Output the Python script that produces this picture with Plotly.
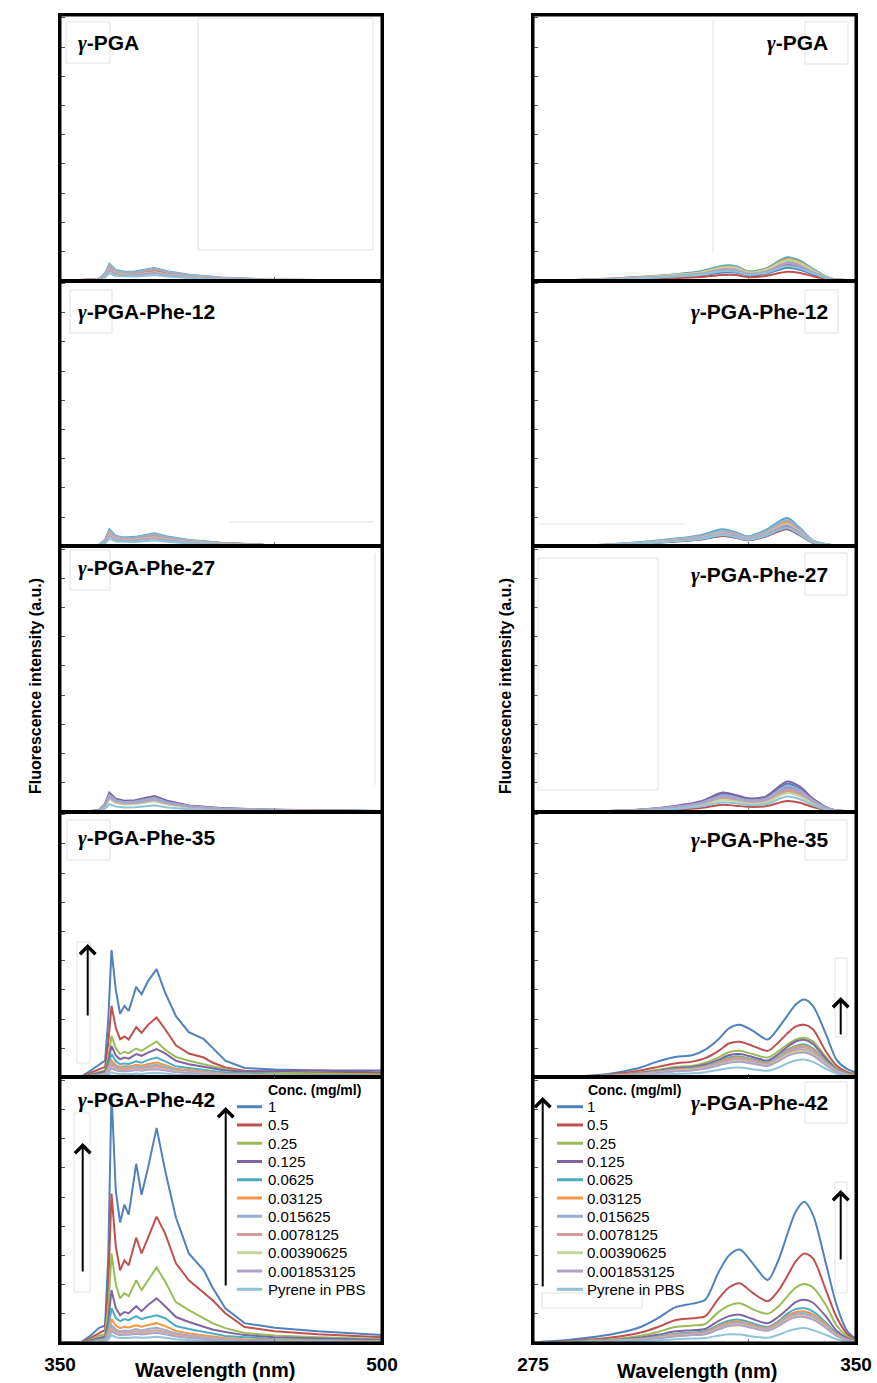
import plotly.graph_objects as go

# ---------------------------------------------------------------- data
CONC = ["1", "0.5", "0.25", "0.125", "0.0625", "0.03125", "0.015625",
        "0.0078125", "0.00390625", "0.001853125", "Pyrene in PBS"]
COLORS = ["#4F81BD", "#C0504D", "#9BBB59", "#8064A2", "#4BACC6", "#F79646",
          "#9AAFD0", "#D69A98", "#C4D79B", "#B1A0C7", "#8FC4D8"]
PANEL_NAMES = ["γ-PGA", "γ-PGA-Phe-12", "γ-PGA-Phe-27", "γ-PGA-Phe-35", "γ-PGA-Phe-42"]

# emission wavelengths (nm)
WL_EM = [350, 360, 365, 368, 371, 372.5, 374, 376, 378, 380, 382, 385.5, 388, 391,
         395, 399, 404, 410, 417, 421, 427, 436, 450, 470, 500]
WL_EM_LOW = [350, 362, 368, 371, 373, 376, 380, 385, 390, 394, 400, 410, 425, 445, 470, 500]

# excitation wavelengths (nm)
WL_EX = [275, 283, 290, 295, 300, 304, 308, 312, 315, 318, 320.5, 323, 326, 329.5,
         332, 334, 336, 338, 340, 343, 345.5, 348, 350]
WL_EX_LOW = [275, 290, 300, 308, 314, 319, 322, 325, 329, 334, 337, 340, 344, 350]

# emission intensities, one row per concentration (same order as CONC)
EM_PGA = [
    [0, 1, 4, 21, 48, 30, 25, 25, 31, 35, 26, 16, 9, 3, 2, 1],
    [0, 1, 4, 20, 45, 28, 23, 24, 30, 34, 25, 16, 9, 3, 2, 1],
    [0, 1, 4, 22, 50, 31, 26, 27, 33, 37, 28, 17, 9, 3, 2, 1],
    [0, 1, 4, 19, 43, 27, 22, 23, 28, 32, 24, 15, 8, 3, 1, 1],
    [0, 1, 5, 25, 58, 36, 30, 31, 38, 43, 32, 20, 11, 4, 2, 1],
    [0, 1, 5, 23, 52, 32, 27, 28, 34, 39, 29, 18, 10, 4, 2, 1],
    [0, 1, 5, 24, 55, 34, 29, 29, 36, 41, 30, 19, 10, 4, 2, 1],
    [0, 1, 4, 18, 41, 25, 21, 22, 27, 30, 22, 14, 8, 3, 1, 1],
    [0, 1, 3, 17, 38, 24, 20, 20, 25, 28, 21, 13, 7, 3, 1, 1],
    [0, 1, 3, 15, 35, 22, 18, 19, 23, 26, 19, 12, 7, 2, 1, 0],
    [0, 0, 2, 11, 26, 16, 14, 14, 17, 19, 14, 9, 5, 2, 1, 0],
]
EM_PHE12 = [
    [0, 1, 3, 18, 46, 28, 24, 26, 32, 35, 26, 17, 10, 4, 2, 2],
    [0, 1, 3, 16, 42, 25, 22, 23, 29, 32, 24, 15, 9, 4, 2, 1],
    [0, 1, 3, 19, 49, 30, 26, 27, 34, 37, 28, 18, 10, 4, 3, 2],
    [0, 1, 4, 20, 52, 32, 27, 29, 36, 40, 30, 19, 11, 5, 3, 2],
    [0, 1, 4, 22, 58, 35, 30, 32, 40, 44, 33, 21, 12, 5, 3, 2],
    [0, 1, 4, 19, 51, 31, 26, 28, 35, 39, 29, 18, 11, 4, 3, 2],
    [0, 1, 4, 21, 55, 33, 29, 30, 38, 42, 31, 20, 11, 5, 3, 2],
    [0, 1, 3, 17, 44, 27, 23, 24, 30, 33, 25, 16, 9, 4, 2, 2],
    [0, 1, 3, 15, 39, 24, 20, 22, 27, 30, 22, 14, 8, 3, 2, 1],
    [0, 1, 2, 14, 36, 22, 19, 20, 25, 27, 20, 13, 7, 3, 2, 1],
    [0, 0, 2, 10, 26, 16, 14, 14, 18, 20, 15, 9, 5, 2, 1, 1],
]
EM_PHE27 = [
    [0, 1, 5, 26, 61, 41, 35, 37, 44, 50, 35, 20, 12, 7, 5, 3],
    [0, 1, 4, 20, 46, 32, 27, 28, 34, 38, 27, 15, 9, 6, 4, 2],
    [0, 1, 4, 22, 53, 36, 30, 32, 38, 43, 30, 18, 10, 6, 4, 2],
    [0, 1, 5, 28, 66, 45, 38, 40, 48, 54, 38, 22, 13, 8, 5, 3],
    [0, 1, 4, 24, 56, 38, 32, 34, 41, 46, 32, 19, 11, 7, 4, 3],
    [0, 1, 4, 22, 51, 35, 30, 31, 37, 42, 30, 17, 10, 6, 4, 2],
    [0, 1, 4, 25, 58, 40, 33, 35, 42, 48, 33, 19, 11, 7, 4, 3],
    [0, 1, 4, 20, 48, 32, 27, 29, 35, 39, 27, 16, 9, 6, 4, 2],
    [0, 1, 3, 18, 44, 30, 25, 26, 32, 36, 25, 15, 9, 5, 3, 2],
    [0, 1, 4, 21, 50, 34, 29, 30, 36, 41, 29, 17, 10, 6, 4, 2],
    [0, 0, 2, 11, 26, 18, 15, 16, 19, 22, 15, 9, 5, 3, 2, 1],
]
EM_PHE35 = [
    [0, 3, 27, 41, 58, 200, 436, 300, 218, 245, 228, 310, 285, 330, 371, 290, 210, 155, 131, 102, 57, 32, 27, 24, 17],
    [0, 2, 18, 27, 36, 120, 245, 170, 131, 140, 130, 172, 153, 180, 205, 165, 110, 82, 68, 51, 34, 23, 19, 16, 14],
    [0, 1, 12, 18, 24, 70, 142, 100, 80, 88, 83, 99, 91, 105, 123, 95, 70, 57, 45, 38, 28, 20, 16, 13, 10],
    [0, 1, 10, 15, 20, 55, 108, 75, 62, 68, 64, 80, 74, 85, 97, 82, 57, 45, 37, 31, 24, 20, 22, 24, 24],
    [0, 1, 7, 11, 14, 40, 80, 55, 45, 48, 46, 55, 50, 60, 68, 55, 38, 32, 27, 22, 17, 14, 10, 8, 6],
    [0, 1, 6, 9, 12, 32, 58, 42, 36, 38, 37, 43, 40, 46, 51, 42, 30, 25, 20, 16, 12, 10, 8, 6, 5],
    [0, 1, 5, 8, 10, 27, 48, 36, 31, 33, 32, 37, 34, 39, 43, 36, 26, 21, 17, 14, 11, 9, 7, 6, 5],
    [0, 1, 4, 7, 9, 23, 41, 31, 27, 29, 28, 32, 30, 34, 37, 31, 23, 19, 15, 12, 10, 8, 6, 5, 4],
    [0, 1, 3, 6, 8, 19, 34, 26, 23, 24, 23, 27, 25, 28, 31, 26, 19, 16, 13, 10, 8, 7, 5, 4, 3],
    [0, 1, 3, 5, 7, 17, 31, 24, 21, 22, 21, 25, 23, 26, 28, 24, 18, 15, 12, 9, 7, 6, 5, 4, 3],
    [0, 0, 2, 3, 4, 9, 17, 13, 11, 12, 11, 13, 12, 14, 15, 13, 9, 8, 6, 5, 4, 3, 2, 2, 1],
]
EM_PHE42 = [
    [0, 3, 30, 51, 60, 300, 856, 520, 413, 474, 440, 614, 508, 600, 737, 590, 430, 307, 249, 191, 119, 68, 52, 40, 27],
    [0, 2, 20, 34, 45, 200, 512, 330, 249, 283, 266, 361, 307, 360, 433, 375, 273, 215, 171, 147, 102, 55, 40, 30, 20],
    [0, 2, 14, 24, 30, 120, 307, 200, 153, 171, 160, 215, 181, 215, 259, 211, 140, 113, 85, 68, 51, 34, 26, 20, 14],
    [0, 1, 10, 17, 22, 75, 181, 120, 95, 106, 102, 126, 109, 130, 153, 126, 89, 72, 55, 46, 38, 27, 20, 15, 10],
    [0, 1, 7, 12, 16, 50, 119, 85, 75, 82, 78, 92, 82, 88, 95, 85, 58, 48, 38, 30, 24, 20, 14, 10, 7],
    [0, 1, 5, 9, 12, 35, 82, 60, 51, 56, 53, 61, 56, 62, 68, 58, 41, 33, 27, 22, 17, 13, 10, 8, 6],
    [0, 1, 4, 7, 10, 28, 61, 46, 40, 43, 41, 48, 43, 48, 52, 45, 33, 27, 21, 17, 13, 10, 8, 6, 5],
    [0, 1, 3, 6, 8, 24, 51, 39, 34, 37, 35, 40, 36, 40, 44, 38, 28, 23, 18, 15, 11, 9, 7, 5, 4],
    [0, 1, 3, 5, 7, 20, 44, 33, 29, 31, 30, 34, 31, 34, 38, 32, 24, 19, 15, 12, 9, 7, 6, 4, 3],
    [0, 1, 3, 5, 7, 19, 41, 31, 27, 29, 28, 32, 29, 32, 35, 30, 22, 18, 14, 11, 9, 7, 5, 4, 3],
    [0, 0, 2, 3, 4, 12, 27, 20, 17, 18, 17, 20, 18, 19, 21, 18, 13, 10, 8, 6, 5, 4, 3, 2, 2],
]

# excitation intensities, one row per concentration
EX_PGA = [
    [0, 3, 7, 12, 18, 28, 28, 18, 23, 44, 37, 22, 4, 1],
    [0, 2, 5, 8, 12, 19, 19, 12, 16, 30, 26, 15, 3, 0],
    [0, 4, 11, 19, 27, 43, 43, 27, 36, 68, 58, 34, 7, 1],
    [0, 3, 9, 15, 22, 35, 34, 22, 29, 54, 46, 27, 5, 1],
    [0, 5, 13, 22, 32, 51, 50, 32, 42, 80, 68, 40, 8, 1],
    [0, 5, 12, 20, 29, 47, 46, 29, 39, 74, 63, 37, 7, 1],
    [0, 4, 10, 18, 26, 41, 40, 26, 34, 64, 54, 32, 6, 1],
    [0, 4, 10, 17, 24, 39, 38, 24, 32, 61, 52, 30, 6, 1],
    [0, 4, 11, 19, 28, 45, 44, 28, 37, 70, 60, 35, 7, 1],
    [0, 4, 10, 16, 24, 38, 37, 24, 31, 59, 50, 30, 6, 1],
    [0, 3, 8, 14, 20, 32, 31, 20, 26, 50, 42, 25, 5, 1],
]
EX_PHE12 = [
    [0, 2, 8, 16, 23, 35, 29, 20, 33, 58, 37, 12, 3, 1],
    [0, 2, 9, 16, 24, 36, 30, 21, 34, 60, 38, 12, 3, 1],
    [0, 3, 11, 21, 31, 48, 39, 28, 45, 80, 51, 16, 4, 1],
    [0, 3, 10, 18, 27, 41, 34, 24, 39, 68, 43, 14, 4, 1],
    [0, 4, 14, 26, 38, 58, 48, 34, 55, 97, 62, 20, 5, 1],
    [0, 4, 12, 23, 33, 51, 42, 30, 48, 85, 55, 18, 4, 1],
    [0, 4, 13, 24, 35, 54, 45, 32, 51, 90, 58, 19, 5, 1],
    [0, 3, 11, 21, 30, 46, 38, 27, 44, 78, 50, 16, 4, 1],
    [0, 3, 11, 20, 30, 45, 37, 27, 43, 76, 48, 16, 4, 1],
    [0, 3, 10, 19, 28, 43, 36, 25, 41, 72, 46, 15, 4, 1],
    [0, 3, 9, 17, 25, 38, 31, 22, 36, 63, 40, 13, 3, 1],
]
EX_PHE27 = [
    [0, 2, 7, 18, 33, 61, 53, 42, 48, 96, 79, 41, 9, 1],
    [0, 1, 3, 7, 13, 24, 21, 17, 19, 37, 31, 16, 4, 0],
    [0, 1, 5, 13, 24, 44, 38, 30, 34, 69, 57, 30, 7, 1],
    [0, 2, 8, 20, 36, 66, 58, 46, 52, 104, 86, 45, 10, 1],
    [0, 2, 7, 16, 30, 54, 48, 38, 43, 85, 71, 37, 8, 1],
    [0, 1, 6, 15, 27, 49, 43, 34, 38, 77, 64, 33, 7, 1],
    [0, 2, 7, 17, 31, 57, 50, 40, 45, 89, 74, 39, 9, 1],
    [0, 1, 6, 14, 25, 46, 41, 32, 36, 73, 60, 32, 7, 1],
    [0, 1, 5, 12, 22, 41, 36, 29, 32, 64, 53, 28, 6, 1],
    [0, 2, 6, 16, 28, 51, 45, 36, 41, 81, 67, 35, 8, 1],
    [0, 1, 4, 10, 18, 33, 29, 23, 26, 52, 43, 23, 5, 1],
]
EX_PHE35 = [
    [0, 2, 8, 18, 34, 55, 70, 76, 95, 130, 168, 180, 160, 130, 170, 210, 250, 267, 245, 149, 60, 28, 17],
    [0, 2, 6, 13, 24, 36, 48, 54, 66, 90, 116, 122, 108, 91, 120, 150, 175, 180, 165, 89, 40, 18, 10],
    [0, 1, 5, 10, 18, 26, 36, 40, 50, 68, 86, 91, 80, 68, 90, 112, 130, 136, 124, 70, 30, 14, 8],
    [0, 1, 4, 9, 16, 23, 32, 36, 44, 60, 76, 80, 70, 58, 80, 104, 123, 129, 115, 64, 28, 13, 7],
    [0, 1, 4, 8, 14, 20, 28, 32, 39, 54, 68, 72, 62, 52, 72, 94, 108, 113, 100, 56, 25, 12, 6],
    [0, 1, 4, 8, 13, 19, 27, 30, 37, 51, 64, 68, 59, 49, 69, 90, 104, 108, 95, 53, 24, 11, 6],
    [0, 1, 4, 7, 12, 18, 25, 28, 35, 48, 60, 64, 56, 46, 66, 86, 99, 102, 90, 50, 22, 10, 5],
    [0, 1, 3, 7, 11, 17, 23, 26, 33, 45, 56, 60, 52, 43, 62, 81, 93, 95, 84, 47, 21, 10, 5],
    [0, 1, 3, 6, 10, 16, 22, 25, 31, 43, 53, 57, 49, 41, 59, 77, 88, 90, 80, 45, 20, 9, 5],
    [0, 1, 3, 6, 10, 15, 21, 24, 30, 41, 50, 54, 47, 39, 56, 73, 83, 85, 75, 42, 19, 9, 4],
    [0, 0, 2, 3, 6, 9, 12, 14, 18, 25, 32, 34, 28, 23, 34, 48, 58, 61, 53, 30, 13, 6, 3],
]
EX_PHE42 = [
    [2, 10, 22, 35, 55, 85, 122, 135, 148, 240, 300, 320, 273, 216, 285, 370, 450, 484, 440, 273, 130, 40, 14],
    [1, 6, 14, 22, 36, 55, 78, 85, 92, 150, 190, 205, 172, 143, 180, 228, 280, 307, 290, 182, 88, 30, 10],
    [1, 4, 10, 15, 25, 38, 55, 60, 65, 105, 128, 136, 116, 100, 125, 159, 190, 202, 190, 130, 60, 22, 8],
    [1, 3, 8, 12, 19, 28, 40, 44, 48, 75, 92, 97, 82, 68, 90, 115, 140, 148, 138, 91, 42, 16, 6],
    [1, 3, 7, 10, 15, 22, 32, 36, 40, 62, 76, 80, 68, 55, 75, 100, 116, 119, 108, 70, 33, 12, 5],
    [1, 2, 6, 9, 14, 20, 29, 33, 37, 57, 70, 74, 62, 51, 70, 93, 106, 108, 98, 64, 30, 11, 4],
    [1, 2, 6, 9, 13, 19, 27, 31, 34, 53, 66, 70, 58, 48, 66, 88, 100, 102, 92, 60, 28, 10, 4],
    [1, 2, 5, 8, 12, 18, 25, 29, 32, 50, 62, 66, 55, 46, 62, 83, 94, 95, 86, 56, 26, 10, 4],
    [1, 2, 5, 8, 12, 17, 24, 28, 31, 48, 60, 63, 53, 44, 60, 80, 91, 92, 83, 54, 25, 9, 3],
    [1, 2, 5, 7, 11, 16, 23, 27, 30, 46, 58, 61, 51, 42, 58, 77, 88, 89, 80, 52, 24, 9, 3],
    [0, 1, 3, 4, 6, 9, 13, 15, 17, 25, 30, 29, 22, 18, 28, 40, 48, 51, 44, 28, 13, 5, 2],
]

EMISSION = [(WL_EM_LOW, EM_PGA), (WL_EM_LOW, EM_PHE12), (WL_EM_LOW, EM_PHE27),
            (WL_EM, EM_PHE35), (WL_EM, EM_PHE42)]
EXCITATION = [(WL_EX_LOW, EX_PGA), (WL_EX_LOW, EX_PHE12), (WL_EX_LOW, EX_PHE27),
              (WL_EX, EX_PHE35), (WL_EX, EX_PHE42)]

# ---------------------------------------------------------------- layout helpers
W, H = 877, 1383
FONT = "Liberation Sans, Arial, sans-serif"
COL_X = [(60, 382), (533, 856)]
TOP, BOTTOM = 15, 1343
ROW_H = (BOTTOM - TOP) / 5
Y_MAX = 910
FAINT = "#e2e2e2"


def px(x):
    return x / W


def py(y):
    return 1 - y / H


def styled_name(name):
    gamma = "<span style=\"font-family:'Liberation Serif', serif\"><i>γ</i></span>"
    return "<b>" + name.replace("γ", gamma) + "</b>"


fig = go.Figure()
layout_axes = {}

columns = [
    dict(panels=EMISSION, xrange=[350, 500], minor_tick=450, end_ticks=[350, 500], shape="linear"),
    dict(panels=EXCITATION, xrange=[275, 350], minor_tick=325, end_ticks=[275, 350], shape="spline"),
]

for col, spec in enumerate(columns):
    x0, x1 = COL_X[col]
    for row, (wl, rows) in enumerate(spec["panels"]):
        k = row * 2 + col + 1
        xname = "x" if k == 1 else f"x{k}"
        yname = "y" if k == 1 else f"y{k}"
        for series, conc, color in zip(rows, CONC, COLORS):
            fig.add_trace(go.Scatter(
                x=wl, y=series, name=conc, mode="lines",
                line=dict(color=color, width=2, shape=spec["shape"], smoothing=0.8),
                xaxis=xname, yaxis=yname, showlegend=False,
            ))
        top = TOP + row * ROW_H
        bottom = top + ROW_H
        last = row == 4
        if last:
            tickvals = [spec["end_ticks"][0], spec["minor_tick"], spec["end_ticks"][1]]
            ticktext = [f"<b>{spec['end_ticks'][0]}</b>", "", f"<b>{spec['end_ticks'][1]}</b>"]
        else:
            tickvals = [spec["minor_tick"]]
            ticktext = [""]
        layout_axes["xaxis" if k == 1 else f"xaxis{k}"] = dict(
            domain=[px(x0), px(x1)], range=spec["xrange"], anchor=yname,
            automargin=False,
            showgrid=False, zeroline=False, showline=True, mirror=True,
            linecolor="black", linewidth=1.5,
            ticks="inside", ticklen=4, tickcolor="#777", tickwidth=1,
            tickvals=tickvals, ticktext=ticktext, showticklabels=last,
            tickfont=dict(family=FONT, size=19, color="black"),
            ticklabelstandoff=3,
        )
        layout_axes["yaxis" if k == 1 else f"yaxis{k}"] = dict(
            domain=[py(bottom), py(top)], range=[0, Y_MAX], anchor=xname,
            automargin=False,
            showgrid=False, zeroline=False, showline=True, mirror=True,
            linecolor="black", linewidth=1.5,
            ticks="inside", ticklen=5, tickcolor="#555", tickwidth=1,
            tickvals=list(range(0, 1000, 100)), showticklabels=False,
        )

shapes = []
annotations = []

# heavy outer frame around each column of panels
for x0, x1 in COL_X:
    shapes.append(dict(type="rect", xref="paper", yref="paper",
                       x0=px(x0), x1=px(x1), y0=py(BOTTOM), y1=py(TOP),
                       line=dict(color="black", width=3)))

# faint leftover text-box outlines
faint_boxes = [
    (66, 22, 110, 63), (198, 18, 373, 250), (70, 290, 112, 333), (70, 550, 110, 590),
    (67, 820, 110, 860), (77, 942, 90, 1063), (74, 1113, 90, 1292),
    (805, 22, 848, 64), (805, 290, 838, 333), (805, 553, 847, 595), (538, 558, 658, 790),
    (805, 820, 847, 860), (835, 958, 847, 1037), (805, 1082, 847, 1123),
    (835, 1182, 847, 1293), (542, 1293, 642, 1308),
]
for bx0, by0, bx1, by1 in faint_boxes:
    shapes.append(dict(type="rect", xref="paper", yref="paper",
                       x0=px(bx0), x1=px(bx1), y0=py(by1), y1=py(by0),
                       line=dict(color=FAINT, width=1)))
faint_lines = [(713, 20, 713, 253), (540, 524, 685, 524), (230, 522, 374, 522), (375, 553, 375, 785)]
for lx0, ly0, lx1, ly1 in faint_lines:
    shapes.append(dict(type="line", xref="paper", yref="paper",
                       x0=px(lx0), x1=px(lx1), y0=py(ly0), y1=py(ly1),
                       line=dict(color=FAINT, width=1)))

# panel labels
LABEL_Y_LEFT = [43, 312, 568, 838, 1100]
LABEL_Y_RIGHT = [43, 312, 575, 840, 1103]
for row, name in enumerate(PANEL_NAMES):
    annotations.append(dict(text=styled_name(name), xref="paper", yref="paper",
                            x=px(76), y=py(LABEL_Y_LEFT[row]), xanchor="left", yanchor="middle",
                            showarrow=False, font=dict(family=FONT, size=21, color="black")))
    annotations.append(dict(text=styled_name(name), xref="paper", yref="paper",
                            x=px(830), y=py(LABEL_Y_RIGHT[row]), xanchor="right", yanchor="middle",
                            showarrow=False, font=dict(family=FONT, size=21, color="black")))

# axis titles
for xc in (36, 506):
    annotations.append(dict(text="<b>Fluorescence intensity (a.u.)</b>", xref="paper", yref="paper",
                            x=px(xc), y=py(686), textangle=-90, showarrow=False,
                            xanchor="center", yanchor="middle",
                            font=dict(family=FONT, size=16, color="black")))
for xc, yc in ((215, 1370), (697, 1371)):
    annotations.append(dict(text="<b>Wavelength (nm)</b>", xref="paper", yref="paper",
                            x=px(xc), y=py(yc), showarrow=False,
                            xanchor="center", yanchor="middle",
                            font=dict(family=FONT, size=20, color="black")))

# concentration legends (left and right bottom panels)
LEG_ROW0, LEG_STEP = 1106.7, 18.26
for sx0, sx1, tx, title_x in ((237, 262, 266, 266), (557, 583, 585, 586)):
    annotations.append(dict(text="<b>Conc. (mg/ml)</b>", xref="paper", yref="paper",
                            x=px(title_x), y=py(1090), xanchor="left", yanchor="middle",
                            showarrow=False, font=dict(family=FONT, size=14, color="black")))
    for i, (conc, color) in enumerate(zip(CONC, COLORS)):
        yy = LEG_ROW0 + i * LEG_STEP
        shapes.append(dict(type="line", xref="paper", yref="paper",
                           x0=px(sx0), x1=px(sx1), y0=py(yy), y1=py(yy),
                           line=dict(color=color, width=3)))
        annotations.append(dict(text=conc, xref="paper", yref="paper",
                                x=px(tx), y=py(yy), xanchor="left", yanchor="middle",
                                showarrow=False, font=dict(family=FONT, size=15, color="black")))

# trend arrows (head x, head y, tail y)
ARROWS = [(87.7, 944, 1017), (82.7, 1143, 1273), (225.7, 1107, 1287),
          (840.7, 997, 1036), (542.7, 1097, 1288), (840.7, 1190, 1261)]
for ax_x, head_y, tail_y in ARROWS:
    annotations.append(dict(text="", xref="paper", yref="paper", x=px(ax_x), y=py(head_y),
                            ax=0, ay=tail_y - head_y, axref="pixel", ayref="pixel",
                            showarrow=True, arrowhead=4, arrowsize=1.5, arrowwidth=2,
                            arrowcolor="black", standoff=0))

fig.update_layout(
    width=W, height=H, autosize=False,
    margin=dict(l=0, r=0, t=0, b=0, autoexpand=False),
    paper_bgcolor="white", plot_bgcolor="white",
    showlegend=False,
    shapes=shapes, annotations=annotations,
    font=dict(family=FONT, color="black"),
    **layout_axes,
)

fig.write_html("out.html")
